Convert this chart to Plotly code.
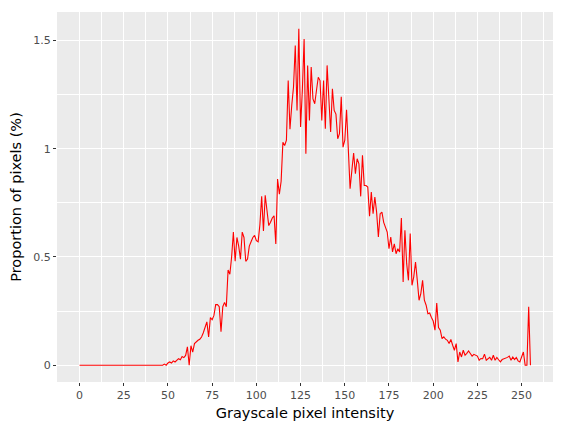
import plotly.graph_objects as go

intensity = list(range(256))
proportion = (
    [0.0] * 48 +
    [0.005, 0.0, 0.01, 0.015, 0.01, 0.02, 0.015, 0.025, 0.03, 0.025,   # 48-57
     0.04, 0.035, 0.045, 0.085, 0.0, 0.09, 0.06, 0.1, 0.11, 0.115,     # 58-67
     0.12, 0.13, 0.15, 0.18, 0.2, 0.13, 0.22, 0.21, 0.23, 0.28,        # 68-77
     0.28, 0.27, 0.155, 0.27, 0.29, 0.27, 0.44, 0.42, 0.5, 0.615,      # 78-87
     0.48, 0.59, 0.55, 0.49, 0.615, 0.59, 0.48, 0.49, 0.55, 0.57,      # 88-97
     0.59, 0.6, 0.575, 0.57, 0.65, 0.78, 0.62, 0.785, 0.7, 0.645,      # 98-107
     0.66, 0.68, 0.69, 0.56, 0.86, 0.79, 0.85, 1.03, 1.015, 1.04,      # 108-117
     1.315, 1.09, 1.2, 1.285, 1.477, 1.177, 1.554, 1.1, 1.27, 1.507,   # 118-127
     0.977, 1.385, 1.13, 1.377, 1.23, 1.208, 1.27, 1.33, 1.315, 1.13,  # 128-137
     1.315, 1.092, 1.385, 1.238, 1.077, 1.277, 1.177, 1.16, 1.046, 1.07,  # 138-147
     1.24, 1.007, 1.04, 1.18, 0.98, 0.815, 0.9, 0.98, 0.885, 0.954,    # 148-157
     0.93, 0.78, 0.97, 0.83, 0.83, 0.823, 0.688, 0.8, 0.7, 0.777,      # 158-167
     0.707, 0.592, 0.7, 0.707, 0.66, 0.638, 0.615, 0.538, 0.592, 0.523,  # 168-177
     0.56, 0.515, 0.538, 0.523, 0.68, 0.384, 0.623, 0.469, 0.392, 0.608,  # 178-187
     0.369, 0.408, 0.477, 0.392, 0.3, 0.331, 0.392, 0.3, 0.277, 0.238,  # 188-197
     0.241, 0.22, 0.204, 0.162, 0.287, 0.174, 0.162, 0.123, 0.131, 0.12,  # 198-207
     0.115, 0.1, 0.119, 0.092, 0.069, 0.1, 0.015, 0.061, 0.038, 0.069,  # 208-217
     0.046, 0.055, 0.066, 0.054, 0.042, 0.05, 0.046, 0.042, 0.023, 0.031,  # 218-227
     0.03, 0.051, 0.023, 0.03, 0.036, 0.023, 0.046, 0.023, 0.036, 0.025,  # 228-237
     0.015, 0.026, 0.029, 0.03, 0.036, 0.042, 0.023, 0.038, 0.026, 0.036,  # 238-247
     0.02, 0.015, 0.038, 0.061, 0.0, 0.0, 0.27, 0.0]                   # 248-255
)

x_ticks = [0, 25, 50, 75, 100, 125, 150, 175, 200, 225, 250]
x_minor = [12.5, 37.5, 62.5, 87.5, 112.5, 137.5, 162.5, 187.5, 212.5, 237.5, 262.5]
y_ticks = [0, 0.5, 1, 1.5]
y_tick_labels = ["0", "0.5", "1", "1.5"]
y_minor = [0.25, 0.75, 1.25]

xmin, xmax = min(intensity), max(intensity)
ymin, ymax = min(proportion), max(proportion)
xpad = (xmax - xmin) * 0.05
ypad = (ymax - ymin) * 0.05

fig = go.Figure()
fig.add_trace(go.Scatter(
    x=intensity, y=proportion, mode="lines",
    line=dict(color="#FF0000", width=1.1),
    showlegend=False,
))

font_family = "DejaVu Sans"
fig.update_layout(
    width=566, height=433,
    margin=dict(l=57, r=13, t=12, b=51),
    paper_bgcolor="white",
    plot_bgcolor="#EBEBEB",
    font=dict(family=font_family, color="#4D4D4D", size=11),
    xaxis=dict(
        range=[xmin - xpad, xmax + xpad],
        tickvals=x_ticks,
        showgrid=True, gridcolor="white", gridwidth=1.1,
        zeroline=False, showline=False,
        ticks="outside", ticklen=3, tickwidth=1, tickcolor="#333333",
        tickfont=dict(size=11, color="#4D4D4D"),
        minor=dict(tickvals=x_minor, showgrid=True, gridcolor="white", gridwidth=0.5, ticks=""),
        title=dict(text="Grayscale pixel intensity", font=dict(size=14.5, color="black"), standoff=6),
    ),
    yaxis=dict(
        range=[ymin - ypad, ymax + ypad],
        tickvals=y_ticks, ticktext=y_tick_labels,
        showgrid=True, gridcolor="white", gridwidth=1.1,
        zeroline=False, showline=False,
        ticks="outside", ticklen=3, tickwidth=1, tickcolor="#333333",
        tickfont=dict(size=11, color="#4D4D4D"),
        minor=dict(tickvals=y_minor, showgrid=True, gridcolor="white", gridwidth=0.5, ticks=""),
        title=dict(text="Proportion of pixels (%)", font=dict(size=14.5, color="black"), standoff=8),
    ),
)

fig.write_html("out.html")
